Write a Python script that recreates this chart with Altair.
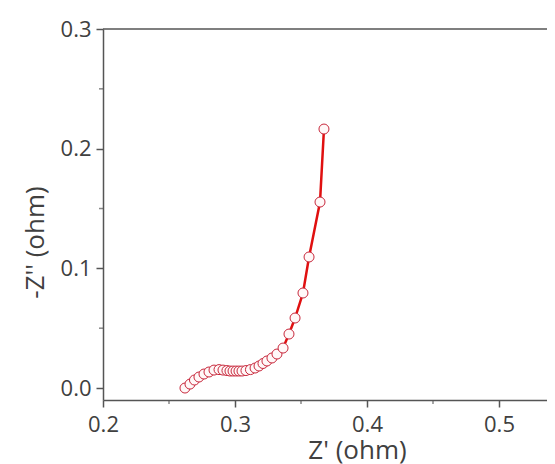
import altair as alt
import pandas as pd

z_real = [0.2621, 0.2659, 0.2693, 0.2727, 0.2765, 0.2803, 0.2841, 0.2879, 0.2909, 0.2939,
          0.2962, 0.2985, 0.3008, 0.3030, 0.3053, 0.3083, 0.3117, 0.3152, 0.3182, 0.3212,
          0.3242, 0.3280, 0.3318, 0.3364, 0.3409, 0.3455, 0.3515, 0.3561, 0.3644, 0.3674]
z_imag = [0.0000, 0.0033, 0.0067, 0.0092, 0.0117, 0.0134, 0.0150, 0.0154, 0.0150, 0.0146,
          0.0142, 0.0142, 0.0142, 0.0142, 0.0142, 0.0146, 0.0154, 0.0167, 0.0184, 0.0205,
          0.0226, 0.0251, 0.0284, 0.0334, 0.0451, 0.0585, 0.0794, 0.1095, 0.1554, 0.2164]

x_ticks = [0.2, 0.3, 0.4, 0.5]
x_minor = [0.25, 0.35, 0.45]
y_ticks = [0.0, 0.1, 0.2, 0.3]
y_minor = [0.05, 0.15, 0.25]

df = pd.DataFrame({"x": z_real, "y": z_imag, "order": list(range(len(z_real)))})

FONT = "Open Sans"
TXT = "#404040"
AX = "#555555"

W = 444
H = 371

xscale = alt.Scale(domain=[0.2, 0.2 + W / 1320], nice=False, zero=False)
yscale = alt.Scale(domain=[-0.01, 0.3], nice=False, zero=False)

xaxis = alt.Axis(values=x_ticks, format=".1f", title="Z' (ohm)", grid=False,
                 domainColor=AX, domainWidth=1.5, tickColor=AX, tickWidth=1.5, tickSize=7,
                 labelFont=FONT, labelFontSize=22, labelColor=TXT, labelPadding=7,
                 titleFont=FONT, titleFontSize=26, titleFontWeight="normal", titleColor=TXT,
                 titleX=254, titleY=50, titleBaseline="middle", titleAlign="center")
yaxis = alt.Axis(values=y_ticks, format=".1f", title="-Z'' (ohm)", grid=False,
                 domainColor=AX, domainWidth=1.5, tickColor=AX, tickWidth=1.5, tickSize=7,
                 labelFont=FONT, labelFontSize=22, labelColor=TXT, labelPadding=5,
                 titleFont=FONT, titleFontSize=26, titleFontWeight="normal", titleColor=TXT,
                 titleX=-68, titleY=213, titleBaseline="middle", titleAlign="center", titleAngle=-90)

base = alt.Chart(df)
line = base.mark_line(color="#e01010", strokeWidth=2.5).encode(
    x=alt.X("x:Q", scale=xscale, axis=xaxis),
    y=alt.Y("y:Q", scale=yscale, axis=yaxis),
    order="order:Q",
)
pts = base.mark_point(shape="circle", filled=True, fill="#fff8f8", stroke="#c8283c",
                      strokeWidth=1, size=100, opacity=1).encode(
    x=alt.X("x:Q", scale=xscale),
    y=alt.Y("y:Q", scale=yscale),
)

xm = alt.Chart(pd.DataFrame({"v": x_minor})).mark_tick(
    orient="vertical", color=AX, thickness=1.5, size=4).encode(
    x=alt.X("v:Q", scale=xscale), y=alt.value(H + 2))
ym = alt.Chart(pd.DataFrame({"v": y_minor})).mark_tick(
    orient="horizontal", color=AX, thickness=1.5, size=4).encode(
    y=alt.Y("v:Q", scale=yscale), x=alt.value(-2))

top = alt.Chart(pd.DataFrame({"a": [0]})).mark_rule(color=AX, strokeWidth=1.5).encode(
    x=alt.value(0), x2=alt.value(W), y=alt.value(0))

chart = alt.layer(xm, ym, top, line, pts).properties(
    width=W, height=H,
    autosize=alt.AutoSizeParams(type="none"),
    padding={"left": 95, "top": 21, "right": 0, "bottom": 64},
).configure_view(stroke=None).configure_axis(labelFlush=False)

chart.save("out.html", embed_options={"renderer": "svg", "actions": False})
